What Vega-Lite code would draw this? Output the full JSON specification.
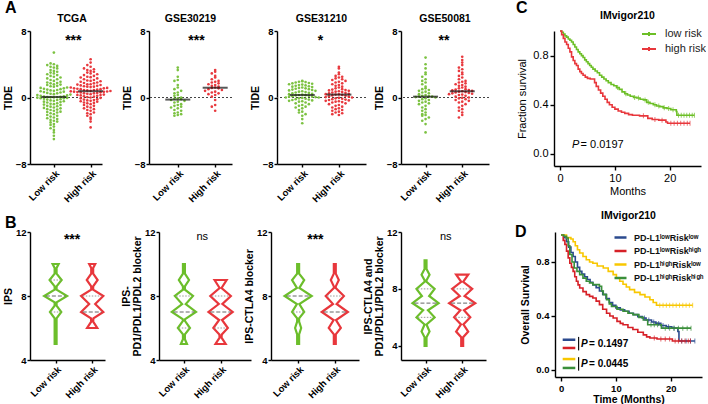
{"$schema":"https://vega.github.io/schema/vega-lite/v6.json","padding":{"left":3,"top":0,"right":0,"bottom":0},"autosize":{"type":"pad"},
"datasets":{
"a":[
{"s":"T","g":"L","v":-5.0},{"s":"T","g":"L","v":-4.6},{"s":"T","g":"L","v":-4.2},{"s":"T","g":"L","v":-3.9},{"s":"T","g":"L","v":-3.7},{"s":"T","g":"L","v":-3.5},{"s":"T","g":"L","v":-3.3},{"s":"T","g":"L","v":-3.2},{"s":"T","g":"L","v":-3.0},{"s":"T","g":"L","v":-2.9},{"s":"T","g":"L","v":-2.8},{"s":"T","g":"L","v":-2.7},{"s":"T","g":"L","v":-2.6},{"s":"T","g":"L","v":-2.5},{"s":"T","g":"L","v":-2.4},{"s":"T","g":"L","v":-2.3},{"s":"T","g":"L","v":-2.2},{"s":"T","g":"L","v":-2.1},{"s":"T","g":"L","v":-2.0},{"s":"T","g":"L","v":-1.9},{"s":"T","g":"L","v":-1.8},{"s":"T","g":"L","v":-1.75},{"s":"T","g":"L","v":-1.7},{"s":"T","g":"L","v":-1.6},{"s":"T","g":"L","v":-1.5},{"s":"T","g":"L","v":-1.45},{"s":"T","g":"L","v":-1.4},{"s":"T","g":"L","v":-1.3},{"s":"T","g":"L","v":-1.25},{"s":"T","g":"L","v":-1.2},{"s":"T","g":"L","v":-1.1},{"s":"T","g":"L","v":-1.05},{"s":"T","g":"L","v":-1.0},{"s":"T","g":"L","v":-0.9},{"s":"T","g":"L","v":-0.85},{"s":"T","g":"L","v":-0.8},{"s":"T","g":"L","v":-0.75},{"s":"T","g":"L","v":-0.7},{"s":"T","g":"L","v":-0.6},{"s":"T","g":"L","v":-0.55},{"s":"T","g":"L","v":-0.5},{"s":"T","g":"L","v":-0.45},{"s":"T","g":"L","v":-0.4},{"s":"T","g":"L","v":-0.35},{"s":"T","g":"L","v":-0.3},{"s":"T","g":"L","v":-0.25},{"s":"T","g":"L","v":-0.2},{"s":"T","g":"L","v":-0.15},{"s":"T","g":"L","v":-0.1},{"s":"T","g":"L","v":-0.08},{"s":"T","g":"L","v":-0.05},{"s":"T","g":"L","v":-0.02},{"s":"T","g":"L","v":0.0},{"s":"T","g":"L","v":0.02},{"s":"T","g":"L","v":0.03},{"s":"T","g":"L","v":0.05},{"s":"T","g":"L","v":0.08},{"s":"T","g":"L","v":0.1},{"s":"T","g":"L","v":0.15},{"s":"T","g":"L","v":0.2},{"s":"T","g":"L","v":0.25},{"s":"T","g":"L","v":0.3},{"s":"T","g":"L","v":0.35},{"s":"T","g":"L","v":0.4},{"s":"T","g":"L","v":0.45},{"s":"T","g":"L","v":0.5},{"s":"T","g":"L","v":0.55},{"s":"T","g":"L","v":0.6},{"s":"T","g":"L","v":0.65},{"s":"T","g":"L","v":0.7},{"s":"T","g":"L","v":0.75},{"s":"T","g":"L","v":0.8},{"s":"T","g":"L","v":0.85},{"s":"T","g":"L","v":0.9},{"s":"T","g":"L","v":0.95},{"s":"T","g":"L","v":1.0},{"s":"T","g":"L","v":1.05},{"s":"T","g":"L","v":1.1},{"s":"T","g":"L","v":1.15},{"s":"T","g":"L","v":1.2},{"s":"T","g":"L","v":1.3},{"s":"T","g":"L","v":1.35},{"s":"T","g":"L","v":1.4},{"s":"T","g":"L","v":1.5},{"s":"T","g":"L","v":1.55},{"s":"T","g":"L","v":1.6},{"s":"T","g":"L","v":1.7},{"s":"T","g":"L","v":1.75},{"s":"T","g":"L","v":1.8},{"s":"T","g":"L","v":1.9},{"s":"T","g":"L","v":2.0},{"s":"T","g":"L","v":2.1},{"s":"T","g":"L","v":2.2},{"s":"T","g":"L","v":2.3},{"s":"T","g":"L","v":2.4},{"s":"T","g":"L","v":2.5},{"s":"T","g":"L","v":2.6},{"s":"T","g":"L","v":2.7},{"s":"T","g":"L","v":2.8},{"s":"T","g":"L","v":2.9},{"s":"T","g":"L","v":3.0},{"s":"T","g":"L","v":3.1},{"s":"T","g":"L","v":3.2},{"s":"T","g":"L","v":3.3},{"s":"T","g":"L","v":3.5},{"s":"T","g":"L","v":3.6},{"s":"T","g":"L","v":3.7},{"s":"T","g":"L","v":3.8},{"s":"T","g":"L","v":3.9},{"s":"T","g":"L","v":4.0},{"s":"T","g":"L","v":4.1},{"s":"T","g":"L","v":5.4},
{"s":"T","g":"H","v":-3.6},{"s":"T","g":"H","v":-2.9},{"s":"T","g":"H","v":-2.6},{"s":"T","g":"H","v":-2.4},{"s":"T","g":"H","v":-2.2},{"s":"T","g":"H","v":-2.0},{"s":"T","g":"H","v":-1.9},{"s":"T","g":"H","v":-1.8},{"s":"T","g":"H","v":-1.6},{"s":"T","g":"H","v":-1.5},{"s":"T","g":"H","v":-1.4},{"s":"T","g":"H","v":-1.3},{"s":"T","g":"H","v":-1.2},{"s":"T","g":"H","v":-1.1},{"s":"T","g":"H","v":-1.0},{"s":"T","g":"H","v":-0.9},{"s":"T","g":"H","v":-0.8},{"s":"T","g":"H","v":-0.7},{"s":"T","g":"H","v":-0.65},{"s":"T","g":"H","v":-0.6},{"s":"T","g":"H","v":-0.5},{"s":"T","g":"H","v":-0.45},{"s":"T","g":"H","v":-0.4},{"s":"T","g":"H","v":-0.35},{"s":"T","g":"H","v":-0.3},{"s":"T","g":"H","v":-0.25},{"s":"T","g":"H","v":-0.2},{"s":"T","g":"H","v":-0.1},{"s":"T","g":"H","v":-0.05},{"s":"T","g":"H","v":0.0},{"s":"T","g":"H","v":0.05},{"s":"T","g":"H","v":0.1},{"s":"T","g":"H","v":0.15},{"s":"T","g":"H","v":0.2},{"s":"T","g":"H","v":0.25},{"s":"T","g":"H","v":0.3},{"s":"T","g":"H","v":0.3},{"s":"T","g":"H","v":0.35},{"s":"T","g":"H","v":0.4},{"s":"T","g":"H","v":0.45},{"s":"T","g":"H","v":0.5},{"s":"T","g":"H","v":0.5},{"s":"T","g":"H","v":0.55},{"s":"T","g":"H","v":0.6},{"s":"T","g":"H","v":0.62},{"s":"T","g":"H","v":0.65},{"s":"T","g":"H","v":0.68},{"s":"T","g":"H","v":0.7},{"s":"T","g":"H","v":0.72},{"s":"T","g":"H","v":0.74},{"s":"T","g":"H","v":0.78},{"s":"T","g":"H","v":0.8},{"s":"T","g":"H","v":0.85},{"s":"T","g":"H","v":0.9},{"s":"T","g":"H","v":0.9},{"s":"T","g":"H","v":0.95},{"s":"T","g":"H","v":1.0},{"s":"T","g":"H","v":1.0},{"s":"T","g":"H","v":1.05},{"s":"T","g":"H","v":1.1},{"s":"T","g":"H","v":1.1},{"s":"T","g":"H","v":1.15},{"s":"T","g":"H","v":1.2},{"s":"T","g":"H","v":1.25},{"s":"T","g":"H","v":1.3},{"s":"T","g":"H","v":1.3},{"s":"T","g":"H","v":1.35},{"s":"T","g":"H","v":1.4},{"s":"T","g":"H","v":1.45},{"s":"T","g":"H","v":1.5},{"s":"T","g":"H","v":1.55},{"s":"T","g":"H","v":1.6},{"s":"T","g":"H","v":1.6},{"s":"T","g":"H","v":1.7},{"s":"T","g":"H","v":1.75},{"s":"T","g":"H","v":1.8},{"s":"T","g":"H","v":1.9},{"s":"T","g":"H","v":1.95},{"s":"T","g":"H","v":2.0},{"s":"T","g":"H","v":2.05},{"s":"T","g":"H","v":2.1},{"s":"T","g":"H","v":2.2},{"s":"T","g":"H","v":2.3},{"s":"T","g":"H","v":2.4},{"s":"T","g":"H","v":2.45},{"s":"T","g":"H","v":2.5},{"s":"T","g":"H","v":2.6},{"s":"T","g":"H","v":2.7},{"s":"T","g":"H","v":2.8},{"s":"T","g":"H","v":2.9},{"s":"T","g":"H","v":3.0},{"s":"T","g":"H","v":3.1},{"s":"T","g":"H","v":3.2},{"s":"T","g":"H","v":3.3},{"s":"T","g":"H","v":3.4},{"s":"T","g":"H","v":3.5},{"s":"T","g":"H","v":3.7},{"s":"T","g":"H","v":3.9},{"s":"T","g":"H","v":4.2},{"s":"T","g":"H","v":4.6},
{"s":"A","g":"L","v":3.6},{"s":"A","g":"L","v":3.3},{"s":"A","g":"L","v":2.5},{"s":"A","g":"L","v":2.1},{"s":"A","g":"L","v":2.0},{"s":"A","g":"L","v":1.5},{"s":"A","g":"L","v":1.2},{"s":"A","g":"L","v":1.0},{"s":"A","g":"L","v":0.8},{"s":"A","g":"L","v":0.6},{"s":"A","g":"L","v":0.5},{"s":"A","g":"L","v":0.3},{"s":"A","g":"L","v":0.2},{"s":"A","g":"L","v":0.0},{"s":"A","g":"L","v":-0.1},{"s":"A","g":"L","v":-0.15},{"s":"A","g":"L","v":-0.2},{"s":"A","g":"L","v":-0.3},{"s":"A","g":"L","v":-0.4},{"s":"A","g":"L","v":-0.5},{"s":"A","g":"L","v":-0.6},{"s":"A","g":"L","v":-0.8},{"s":"A","g":"L","v":-0.9},{"s":"A","g":"L","v":-1.0},{"s":"A","g":"L","v":-1.1},{"s":"A","g":"L","v":-1.2},{"s":"A","g":"L","v":-1.3},{"s":"A","g":"L","v":-1.5},{"s":"A","g":"L","v":-1.6},{"s":"A","g":"L","v":-1.8},{"s":"A","g":"L","v":-1.9},{"s":"A","g":"L","v":-2.0},{"s":"A","g":"L","v":-2.1},{"s":"A","g":"L","v":-2.2},
{"s":"A","g":"H","v":3.3},{"s":"A","g":"H","v":3.1},{"s":"A","g":"H","v":2.9},{"s":"A","g":"H","v":2.6},{"s":"A","g":"H","v":2.4},{"s":"A","g":"H","v":2.2},{"s":"A","g":"H","v":2.0},{"s":"A","g":"H","v":1.9},{"s":"A","g":"H","v":1.8},{"s":"A","g":"H","v":1.7},{"s":"A","g":"H","v":1.6},{"s":"A","g":"H","v":1.5},{"s":"A","g":"H","v":1.4},{"s":"A","g":"H","v":1.3},{"s":"A","g":"H","v":1.2},{"s":"A","g":"H","v":1.15},{"s":"A","g":"H","v":1.1},{"s":"A","g":"H","v":1.0},{"s":"A","g":"H","v":0.9},{"s":"A","g":"H","v":0.8},{"s":"A","g":"H","v":0.7},{"s":"A","g":"H","v":0.6},{"s":"A","g":"H","v":0.5},{"s":"A","g":"H","v":0.4},{"s":"A","g":"H","v":0.3},{"s":"A","g":"H","v":0.1},{"s":"A","g":"H","v":-0.3},{"s":"A","g":"H","v":-0.9},{"s":"A","g":"H","v":-1.1},{"s":"A","g":"H","v":-1.6},
{"s":"B","g":"L","v":2.0},{"s":"B","g":"L","v":1.95},{"s":"B","g":"L","v":1.9},{"s":"B","g":"L","v":1.85},{"s":"B","g":"L","v":1.8},{"s":"B","g":"L","v":1.75},{"s":"B","g":"L","v":1.7},{"s":"B","g":"L","v":1.65},{"s":"B","g":"L","v":1.6},{"s":"B","g":"L","v":1.55},{"s":"B","g":"L","v":1.5},{"s":"B","g":"L","v":1.45},{"s":"B","g":"L","v":1.4},{"s":"B","g":"L","v":1.35},{"s":"B","g":"L","v":1.3},{"s":"B","g":"L","v":1.25},{"s":"B","g":"L","v":1.2},{"s":"B","g":"L","v":1.15},{"s":"B","g":"L","v":1.1},{"s":"B","g":"L","v":1.05},{"s":"B","g":"L","v":1.0},{"s":"B","g":"L","v":0.95},{"s":"B","g":"L","v":0.9},{"s":"B","g":"L","v":0.85},{"s":"B","g":"L","v":0.8},{"s":"B","g":"L","v":0.75},{"s":"B","g":"L","v":0.7},{"s":"B","g":"L","v":0.65},{"s":"B","g":"L","v":0.6},{"s":"B","g":"L","v":0.55},{"s":"B","g":"L","v":0.5},{"s":"B","g":"L","v":0.45},{"s":"B","g":"L","v":0.4},{"s":"B","g":"L","v":0.35},{"s":"B","g":"L","v":0.3},{"s":"B","g":"L","v":0.28},{"s":"B","g":"L","v":0.25},{"s":"B","g":"L","v":0.2},{"s":"B","g":"L","v":0.15},{"s":"B","g":"L","v":0.1},{"s":"B","g":"L","v":0.1},{"s":"B","g":"L","v":0.05},{"s":"B","g":"L","v":0.0},{"s":"B","g":"L","v":0.0},{"s":"B","g":"L","v":-0.05},{"s":"B","g":"L","v":-0.1},{"s":"B","g":"L","v":-0.15},{"s":"B","g":"L","v":-0.2},{"s":"B","g":"L","v":-0.25},{"s":"B","g":"L","v":-0.3},{"s":"B","g":"L","v":-0.35},{"s":"B","g":"L","v":-0.4},{"s":"B","g":"L","v":-0.45},{"s":"B","g":"L","v":-0.5},{"s":"B","g":"L","v":-0.6},{"s":"B","g":"L","v":-0.7},{"s":"B","g":"L","v":-0.8},{"s":"B","g":"L","v":-0.9},{"s":"B","g":"L","v":-1.0},{"s":"B","g":"L","v":-1.1},{"s":"B","g":"L","v":-1.2},{"s":"B","g":"L","v":-1.3},{"s":"B","g":"L","v":-1.5},{"s":"B","g":"L","v":-1.7},{"s":"B","g":"L","v":-1.8},{"s":"B","g":"L","v":-2.0},{"s":"B","g":"L","v":-2.2},{"s":"B","g":"L","v":-2.6},{"s":"B","g":"L","v":-3.1},
{"s":"B","g":"H","v":3.7},{"s":"B","g":"H","v":3.5},{"s":"B","g":"H","v":3.0},{"s":"B","g":"H","v":2.8},{"s":"B","g":"H","v":2.6},{"s":"B","g":"H","v":2.5},{"s":"B","g":"H","v":2.4},{"s":"B","g":"H","v":2.3},{"s":"B","g":"H","v":2.2},{"s":"B","g":"H","v":2.1},{"s":"B","g":"H","v":2.0},{"s":"B","g":"H","v":1.9},{"s":"B","g":"H","v":1.8},{"s":"B","g":"H","v":1.7},{"s":"B","g":"H","v":1.6},{"s":"B","g":"H","v":1.5},{"s":"B","g":"H","v":1.4},{"s":"B","g":"H","v":1.3},{"s":"B","g":"H","v":1.2},{"s":"B","g":"H","v":1.1},{"s":"B","g":"H","v":1.0},{"s":"B","g":"H","v":0.95},{"s":"B","g":"H","v":0.9},{"s":"B","g":"H","v":0.85},{"s":"B","g":"H","v":0.8},{"s":"B","g":"H","v":0.75},{"s":"B","g":"H","v":0.7},{"s":"B","g":"H","v":0.65},{"s":"B","g":"H","v":0.6},{"s":"B","g":"H","v":0.55},{"s":"B","g":"H","v":0.5},{"s":"B","g":"H","v":0.45},{"s":"B","g":"H","v":0.4},{"s":"B","g":"H","v":0.38},{"s":"B","g":"H","v":0.35},{"s":"B","g":"H","v":0.3},{"s":"B","g":"H","v":0.25},{"s":"B","g":"H","v":0.2},{"s":"B","g":"H","v":0.15},{"s":"B","g":"H","v":0.1},{"s":"B","g":"H","v":0.05},{"s":"B","g":"H","v":0.0},{"s":"B","g":"H","v":-0.05},{"s":"B","g":"H","v":-0.1},{"s":"B","g":"H","v":-0.15},{"s":"B","g":"H","v":-0.2},{"s":"B","g":"H","v":-0.25},{"s":"B","g":"H","v":-0.3},{"s":"B","g":"H","v":-0.35},{"s":"B","g":"H","v":-0.4},{"s":"B","g":"H","v":-0.45},{"s":"B","g":"H","v":-0.5},{"s":"B","g":"H","v":-0.55},{"s":"B","g":"H","v":-0.6},{"s":"B","g":"H","v":-0.7},{"s":"B","g":"H","v":-0.8},{"s":"B","g":"H","v":-0.9},{"s":"B","g":"H","v":-1.0},{"s":"B","g":"H","v":-1.1},{"s":"B","g":"H","v":-1.2},{"s":"B","g":"H","v":-1.3},{"s":"B","g":"H","v":-1.4},{"s":"B","g":"H","v":-1.5},{"s":"B","g":"H","v":-1.6},{"s":"B","g":"H","v":-1.7},{"s":"B","g":"H","v":-1.8},{"s":"B","g":"H","v":-1.9},{"s":"B","g":"H","v":-2.0},{"s":"B","g":"H","v":-2.1},
{"s":"C","g":"L","v":4.8},{"s":"C","g":"L","v":4.0},{"s":"C","g":"L","v":3.5},{"s":"C","g":"L","v":3.0},{"s":"C","g":"L","v":2.8},{"s":"C","g":"L","v":2.5},{"s":"C","g":"L","v":2.2},{"s":"C","g":"L","v":2.0},{"s":"C","g":"L","v":1.8},{"s":"C","g":"L","v":1.6},{"s":"C","g":"L","v":1.3},{"s":"C","g":"L","v":1.1},{"s":"C","g":"L","v":1.0},{"s":"C","g":"L","v":0.9},{"s":"C","g":"L","v":0.8},{"s":"C","g":"L","v":0.7},{"s":"C","g":"L","v":0.6},{"s":"C","g":"L","v":0.5},{"s":"C","g":"L","v":0.4},{"s":"C","g":"L","v":0.3},{"s":"C","g":"L","v":0.2},{"s":"C","g":"L","v":0.15},{"s":"C","g":"L","v":0.12},{"s":"C","g":"L","v":0.1},{"s":"C","g":"L","v":0.05},{"s":"C","g":"L","v":0.0},{"s":"C","g":"L","v":-0.1},{"s":"C","g":"L","v":-0.2},{"s":"C","g":"L","v":-0.3},{"s":"C","g":"L","v":-0.4},{"s":"C","g":"L","v":-0.5},{"s":"C","g":"L","v":-0.6},{"s":"C","g":"L","v":-0.7},{"s":"C","g":"L","v":-0.8},{"s":"C","g":"L","v":-1.0},{"s":"C","g":"L","v":-1.2},{"s":"C","g":"L","v":-1.4},{"s":"C","g":"L","v":-1.6},{"s":"C","g":"L","v":-1.8},{"s":"C","g":"L","v":-2.0},{"s":"C","g":"L","v":-2.1},{"s":"C","g":"L","v":-2.2},{"s":"C","g":"L","v":-2.4},{"s":"C","g":"L","v":-2.6},{"s":"C","g":"L","v":-2.8},{"s":"C","g":"L","v":-3.2},{"s":"C","g":"L","v":-4.2},
{"s":"C","g":"H","v":4.9},{"s":"C","g":"H","v":4.5},{"s":"C","g":"H","v":4.2},{"s":"C","g":"H","v":3.9},{"s":"C","g":"H","v":3.6},{"s":"C","g":"H","v":3.4},{"s":"C","g":"H","v":3.2},{"s":"C","g":"H","v":3.0},{"s":"C","g":"H","v":2.8},{"s":"C","g":"H","v":2.6},{"s":"C","g":"H","v":2.4},{"s":"C","g":"H","v":2.2},{"s":"C","g":"H","v":2.0},{"s":"C","g":"H","v":1.9},{"s":"C","g":"H","v":1.8},{"s":"C","g":"H","v":1.7},{"s":"C","g":"H","v":1.6},{"s":"C","g":"H","v":1.5},{"s":"C","g":"H","v":1.4},{"s":"C","g":"H","v":1.3},{"s":"C","g":"H","v":1.2},{"s":"C","g":"H","v":1.1},{"s":"C","g":"H","v":1.0},{"s":"C","g":"H","v":0.95},{"s":"C","g":"H","v":0.9},{"s":"C","g":"H","v":0.85},{"s":"C","g":"H","v":0.8},{"s":"C","g":"H","v":0.75},{"s":"C","g":"H","v":0.7},{"s":"C","g":"H","v":0.65},{"s":"C","g":"H","v":0.6},{"s":"C","g":"H","v":0.55},{"s":"C","g":"H","v":0.5},{"s":"C","g":"H","v":0.45},{"s":"C","g":"H","v":0.4},{"s":"C","g":"H","v":0.35},{"s":"C","g":"H","v":0.3},{"s":"C","g":"H","v":0.2},{"s":"C","g":"H","v":0.1},{"s":"C","g":"H","v":0.0},{"s":"C","g":"H","v":-0.05},{"s":"C","g":"H","v":-0.1},{"s":"C","g":"H","v":-0.2},{"s":"C","g":"H","v":-0.3},{"s":"C","g":"H","v":-0.4},{"s":"C","g":"H","v":-0.5},{"s":"C","g":"H","v":-0.6},{"s":"C","g":"H","v":-0.8},{"s":"C","g":"H","v":-1.0},{"s":"C","g":"H","v":-1.2},{"s":"C","g":"H","v":-1.4},{"s":"C","g":"H","v":-1.6},{"s":"C","g":"H","v":-1.8},{"s":"C","g":"H","v":-2.1},{"s":"C","g":"H","v":-2.4}
],
"v":[
{"p":1,"g":"L","y":5,"d":0.08},{"p":1,"g":"L","y":6.6,"d":0.08},{"p":1,"g":"L","y":7,"d":0.47},{"p":1,"g":"L","y":7.4,"d":0.08},{"p":1,"g":"L","y":7.6,"d":0.08},{"p":1,"g":"L","y":8,"d":0.95},{"p":1,"g":"L","y":8.4,"d":0.08},{"p":1,"g":"L","y":8.6,"d":0.08},{"p":1,"g":"L","y":9,"d":0.5},{"p":1,"g":"L","y":9.4,"d":0.08},{"p":1,"g":"L","y":9.75,"d":0.08},{"p":1,"g":"L","y":10,"d":0.25},
{"p":1,"g":"H","y":6,"d":0.42},{"p":1,"g":"H","y":6.4,"d":0.08},{"p":1,"g":"H","y":6.6,"d":0.1},{"p":1,"g":"H","y":7,"d":0.92},{"p":1,"g":"H","y":7.5,"d":0.25},{"p":1,"g":"H","y":8,"d":0.92},{"p":1,"g":"H","y":8.4,"d":0.08},{"p":1,"g":"H","y":8.6,"d":0.08},{"p":1,"g":"H","y":9,"d":0.45},{"p":1,"g":"H","y":9.4,"d":0.08},{"p":1,"g":"H","y":9.75,"d":0.08},{"p":1,"g":"H","y":10,"d":0.25},
{"p":2,"g":"L","y":5,"d":0.25},{"p":2,"g":"L","y":5.3,"d":0.08},{"p":2,"g":"L","y":5.6,"d":0.08},{"p":2,"g":"L","y":6,"d":0.5},{"p":2,"g":"L","y":6.45,"d":0.08},{"p":2,"g":"L","y":6.55,"d":0.1},{"p":2,"g":"L","y":7,"d":1.0},{"p":2,"g":"L","y":7.5,"d":0.15},{"p":2,"g":"L","y":8,"d":0.75},{"p":2,"g":"L","y":8.4,"d":0.08},{"p":2,"g":"L","y":8.6,"d":0.08},{"p":2,"g":"L","y":9,"d":0.42},{"p":2,"g":"L","y":9.4,"d":0.08},{"p":2,"g":"L","y":10,"d":0.08},
{"p":2,"g":"H","y":5,"d":0.42},{"p":2,"g":"H","y":5.4,"d":0.08},{"p":2,"g":"H","y":5.6,"d":0.1},{"p":2,"g":"H","y":6,"d":0.6},{"p":2,"g":"H","y":6.5,"d":0.12},{"p":2,"g":"H","y":7,"d":1.0},{"p":2,"g":"H","y":7.5,"d":0.15},{"p":2,"g":"H","y":8,"d":0.85},{"p":2,"g":"H","y":8.5,"d":0.08},{"p":2,"g":"H","y":9,"d":0.5},
{"p":3,"g":"L","y":5,"d":0.08},{"p":3,"g":"L","y":5.6,"d":0.08},{"p":3,"g":"L","y":6,"d":0.25},{"p":3,"g":"L","y":6.4,"d":0.08},{"p":3,"g":"L","y":6.6,"d":0.08},{"p":3,"g":"L","y":7,"d":0.5},{"p":3,"g":"L","y":7.5,"d":0.1},{"p":3,"g":"L","y":8,"d":1.12},{"p":3,"g":"L","y":8.5,"d":0.1},{"p":3,"g":"L","y":9,"d":0.5},{"p":3,"g":"L","y":9.4,"d":0.08},{"p":3,"g":"L","y":10,"d":0.08},
{"p":3,"g":"H","y":5,"d":0.08},{"p":3,"g":"H","y":5.6,"d":0.08},{"p":3,"g":"H","y":6,"d":0.5},{"p":3,"g":"H","y":6.5,"d":0.1},{"p":3,"g":"H","y":7,"d":1.08},{"p":3,"g":"H","y":7.5,"d":0.15},{"p":3,"g":"H","y":8,"d":0.75},{"p":3,"g":"H","y":8.5,"d":0.08},{"p":3,"g":"H","y":8.6,"d":0.08},{"p":3,"g":"H","y":9,"d":0.33},{"p":3,"g":"H","y":9.4,"d":0.08},{"p":3,"g":"H","y":10,"d":0.08},
{"p":4,"g":"L","y":4,"d":0.08},{"p":4,"g":"L","y":4.6,"d":0.08},{"p":4,"g":"L","y":5,"d":0.33},{"p":4,"g":"L","y":5.5,"d":0.08},{"p":4,"g":"L","y":6,"d":0.75},{"p":4,"g":"L","y":6.5,"d":0.2},{"p":4,"g":"L","y":7,"d":1.08},{"p":4,"g":"L","y":7.5,"d":0.3},{"p":4,"g":"L","y":8,"d":0.75},{"p":4,"g":"L","y":8.5,"d":0.08},{"p":4,"g":"L","y":8.6,"d":0.08},{"p":4,"g":"L","y":9,"d":0.33},{"p":4,"g":"L","y":9.4,"d":0.08},{"p":4,"g":"L","y":10,"d":0.08},
{"p":4,"g":"H","y":4,"d":0.08},{"p":4,"g":"H","y":4.6,"d":0.08},{"p":4,"g":"H","y":5,"d":0.5},{"p":4,"g":"H","y":5.5,"d":0.1},{"p":4,"g":"H","y":6,"d":0.67},{"p":4,"g":"H","y":6.5,"d":0.15},{"p":4,"g":"H","y":7,"d":1.08},{"p":4,"g":"H","y":7.5,"d":0.2},{"p":4,"g":"H","y":8,"d":0.83},{"p":4,"g":"H","y":8.5,"d":0.08},{"p":4,"g":"H","y":9,"d":0.5}
],
"q":[
{"p":1,"g":"L","k":"q","y":9,"d":0.5},{"p":1,"g":"L","k":"m","y":8,"d":0.95},{"p":1,"g":"L","k":"q","y":7,"d":0.47},
{"p":1,"g":"H","k":"q","y":8,"d":0.92},{"p":1,"g":"H","k":"m","y":7,"d":0.92},
{"p":2,"g":"L","k":"q","y":8,"d":0.75},{"p":2,"g":"L","k":"m","y":7,"d":1.0},{"p":2,"g":"L","k":"q","y":6,"d":0.5},
{"p":2,"g":"H","k":"q","y":8,"d":0.85},{"p":2,"g":"H","k":"m","y":7,"d":1.0},{"p":2,"g":"H","k":"q","y":6,"d":0.6},
{"p":3,"g":"L","k":"m","y":8,"d":1.12},{"p":3,"g":"L","k":"q","y":7,"d":0.5},
{"p":3,"g":"H","k":"q","y":8,"d":0.75},{"p":3,"g":"H","k":"m","y":7,"d":1.08},
{"p":4,"g":"L","k":"q","y":8,"d":0.75},{"p":4,"g":"L","k":"m","y":7,"d":1.08},{"p":4,"g":"L","k":"q","y":6,"d":0.75},
{"p":4,"g":"H","k":"q","y":8,"d":0.83},{"p":4,"g":"H","k":"m","y":7,"d":1.08},{"p":4,"g":"H","k":"q","y":6,"d":0.67}
],
"c":[
{"g":"low risk","t":0,"s":1},{"g":"low risk","t":0.3,"s":0.99},{"g":"low risk","t":0.6,"s":0.975},{"g":"low risk","t":0.9,"s":0.96},{"g":"low risk","t":1.2,"s":0.95},{"g":"low risk","t":1.5,"s":0.935},{"g":"low risk","t":1.8,"s":0.925},{"g":"low risk","t":2.1,"s":0.91},{"g":"low risk","t":2.4,"s":0.89},{"g":"low risk","t":2.7,"s":0.87},{"g":"low risk","t":3.0,"s":0.85},{"g":"low risk","t":3.3,"s":0.83},{"g":"low risk","t":3.6,"s":0.815},{"g":"low risk","t":3.9,"s":0.8},{"g":"low risk","t":4.2,"s":0.785},{"g":"low risk","t":4.5,"s":0.765},{"g":"low risk","t":4.8,"s":0.75},{"g":"low risk","t":5.1,"s":0.735},{"g":"low risk","t":5.4,"s":0.72},{"g":"low risk","t":5.7,"s":0.705},{"g":"low risk","t":6.0,"s":0.69},{"g":"low risk","t":6.4,"s":0.675},{"g":"low risk","t":6.8,"s":0.66},{"g":"low risk","t":7.2,"s":0.64},{"g":"low risk","t":7.6,"s":0.625},{"g":"low risk","t":8.0,"s":0.61},{"g":"low risk","t":8.4,"s":0.595},{"g":"low risk","t":8.8,"s":0.58},{"g":"low risk","t":9.3,"s":0.565},{"g":"low risk","t":9.8,"s":0.555},{"g":"low risk","t":10.3,"s":0.54},{"g":"low risk","t":10.8,"s":0.525},{"g":"low risk","t":11.3,"s":0.505},{"g":"low risk","t":11.8,"s":0.49},{"g":"low risk","t":12.3,"s":0.48},{"g":"low risk","t":12.8,"s":0.47},{"g":"low risk","t":13.4,"s":0.46},{"g":"low risk","t":14.0,"s":0.455},{"g":"low risk","t":14.6,"s":0.445},{"g":"low risk","t":15.2,"s":0.44},{"g":"low risk","t":15.8,"s":0.42},{"g":"low risk","t":16.4,"s":0.41},{"g":"low risk","t":17.0,"s":0.4},{"g":"low risk","t":17.6,"s":0.39},{"g":"low risk","t":18.2,"s":0.385},{"g":"low risk","t":18.8,"s":0.375},{"g":"low risk","t":19.5,"s":0.37},{"g":"low risk","t":20.2,"s":0.36},{"g":"low risk","t":21.2,"s":0.345},{"g":"low risk","t":21.3,"s":0.315},
{"g":"low risk","t":10.5,"s":0.54,"c":1},{"g":"low risk","t":12.0,"s":0.49,"c":1},{"g":"low risk","t":13.6,"s":0.46,"c":1},{"g":"low risk","t":14.3,"s":0.455,"c":1},{"g":"low risk","t":15.5,"s":0.44,"c":1},{"g":"low risk","t":16.1,"s":0.42,"c":1},{"g":"low risk","t":17.3,"s":0.4,"c":1},{"g":"low risk","t":18.0,"s":0.39,"c":1},{"g":"low risk","t":19.0,"s":0.375,"c":1},{"g":"low risk","t":19.8,"s":0.37,"c":1},{"g":"low risk","t":20.6,"s":0.36,"c":1},{"g":"low risk","t":21.6,"s":0.315,"c":1},{"g":"low risk","t":22.1,"s":0.315,"c":1},{"g":"low risk","t":22.6,"s":0.315,"c":1},{"g":"low risk","t":23.1,"s":0.315,"c":1},{"g":"low risk","t":23.6,"s":0.315,"c":1},{"g":"low risk","t":24.1,"s":0.315,"c":1},{"g":"low risk","t":24.5,"s":0.315,"c":1},
{"g":"high risk","t":0,"s":1},{"g":"high risk","t":0.3,"s":0.97},{"g":"high risk","t":0.6,"s":0.94},{"g":"high risk","t":0.9,"s":0.91},{"g":"high risk","t":1.2,"s":0.89},{"g":"high risk","t":1.5,"s":0.86},{"g":"high risk","t":1.8,"s":0.83},{"g":"high risk","t":2.1,"s":0.79},{"g":"high risk","t":2.4,"s":0.76},{"g":"high risk","t":2.7,"s":0.735},{"g":"high risk","t":3.0,"s":0.72},{"g":"high risk","t":3.3,"s":0.69},{"g":"high risk","t":3.6,"s":0.67},{"g":"high risk","t":3.9,"s":0.655},{"g":"high risk","t":4.2,"s":0.64},{"g":"high risk","t":4.6,"s":0.625},{"g":"high risk","t":5.0,"s":0.615},{"g":"high risk","t":5.5,"s":0.61},{"g":"high risk","t":6.3,"s":0.58},{"g":"high risk","t":6.6,"s":0.55},{"g":"high risk","t":7.0,"s":0.52},{"g":"high risk","t":7.4,"s":0.495},{"g":"high risk","t":7.8,"s":0.47},{"g":"high risk","t":8.2,"s":0.445},{"g":"high risk","t":8.6,"s":0.42},{"g":"high risk","t":9.0,"s":0.4},{"g":"high risk","t":9.5,"s":0.38},{"g":"high risk","t":10.0,"s":0.365},{"g":"high risk","t":10.6,"s":0.35},{"g":"high risk","t":11.2,"s":0.34},{"g":"high risk","t":11.8,"s":0.33},{"g":"high risk","t":12.5,"s":0.32},{"g":"high risk","t":13.2,"s":0.315},{"g":"high risk","t":14.5,"s":0.31},{"g":"high risk","t":16.0,"s":0.29},{"g":"high risk","t":16.8,"s":0.28},{"g":"high risk","t":18.0,"s":0.275},{"g":"high risk","t":19.3,"s":0.26},{"g":"high risk","t":19.6,"s":0.25},
{"g":"high risk","t":15.2,"s":0.31,"c":1},{"g":"high risk","t":17.3,"s":0.28,"c":1},{"g":"high risk","t":18.6,"s":0.275,"c":1},{"g":"high risk","t":20.2,"s":0.25,"c":1},{"g":"high risk","t":20.8,"s":0.25,"c":1},{"g":"high risk","t":21.4,"s":0.25,"c":1},{"g":"high risk","t":22.0,"s":0.25,"c":1},{"g":"high risk","t":22.6,"s":0.25,"c":1},{"g":"high risk","t":23.2,"s":0.25,"c":1},{"g":"high risk","t":23.7,"s":0.25,"c":1}
],
"d":[
{"g":"LL","t":0,"s":1},{"g":"LL","t":0.5,"s":0.98},{"g":"LL","t":1.0,"s":0.95},{"g":"LL","t":1.4,"s":0.91},{"g":"LL","t":1.8,"s":0.87},{"g":"LL","t":2.2,"s":0.84},{"g":"LL","t":2.6,"s":0.8},{"g":"LL","t":3.0,"s":0.76},{"g":"LL","t":3.4,"s":0.73},{"g":"LL","t":3.8,"s":0.71},{"g":"LL","t":4.3,"s":0.69},{"g":"LL","t":4.8,"s":0.67},{"g":"LL","t":5.3,"s":0.65},{"g":"LL","t":5.8,"s":0.63},{"g":"LL","t":6.4,"s":0.61},{"g":"LL","t":7.0,"s":0.585},{"g":"LL","t":7.6,"s":0.56},{"g":"LL","t":8.2,"s":0.53},{"g":"LL","t":8.8,"s":0.5},{"g":"LL","t":9.4,"s":0.48},{"g":"LL","t":10.0,"s":0.46},{"g":"LL","t":10.8,"s":0.445},{"g":"LL","t":11.6,"s":0.435},{"g":"LL","t":12.4,"s":0.42},{"g":"LL","t":13.2,"s":0.41},{"g":"LL","t":14.0,"s":0.395},{"g":"LL","t":14.8,"s":0.385},{"g":"LL","t":15.5,"s":0.37},{"g":"LL","t":16.5,"s":0.355},{"g":"LL","t":17.3,"s":0.345},{"g":"LL","t":18.2,"s":0.33},{"g":"LL","t":19.2,"s":0.32},{"g":"LL","t":20.2,"s":0.31},{"g":"LL","t":21.3,"s":0.285},{"g":"LL","t":21.5,"s":0.215},
{"g":"LL","t":15.2,"s":0.385,"c":1},{"g":"LL","t":16.0,"s":0.37,"c":1},{"g":"LL","t":16.9,"s":0.355,"c":1},{"g":"LL","t":17.8,"s":0.345,"c":1},{"g":"LL","t":18.6,"s":0.33,"c":1},{"g":"LL","t":19.6,"s":0.32,"c":1},{"g":"LL","t":20.6,"s":0.31,"c":1},{"g":"LL","t":22.0,"s":0.215,"c":1},{"g":"LL","t":22.8,"s":0.215,"c":1},{"g":"LL","t":23.6,"s":0.215,"c":1},{"g":"LL","t":24.4,"s":0.215,"c":1},
{"g":"LH","t":0,"s":1},{"g":"LH","t":0.4,"s":0.96},{"g":"LH","t":0.7,"s":0.93},{"g":"LH","t":1.0,"s":0.88},{"g":"LH","t":1.3,"s":0.83},{"g":"LH","t":1.6,"s":0.79},{"g":"LH","t":1.9,"s":0.76},{"g":"LH","t":2.2,"s":0.73},{"g":"LH","t":2.5,"s":0.69},{"g":"LH","t":2.8,"s":0.657},{"g":"LH","t":3.1,"s":0.63},{"g":"LH","t":3.4,"s":0.607},{"g":"LH","t":4.0,"s":0.58},{"g":"LH","t":4.6,"s":0.558},{"g":"LH","t":5.2,"s":0.545},{"g":"LH","t":5.8,"s":0.533},{"g":"LH","t":6.4,"s":0.51},{"g":"LH","t":7.0,"s":0.484},{"g":"LH","t":7.6,"s":0.45},{"g":"LH","t":8.3,"s":0.42},{"g":"LH","t":8.9,"s":0.4},{"g":"LH","t":9.5,"s":0.385},{"g":"LH","t":10.2,"s":0.36},{"g":"LH","t":10.8,"s":0.345},{"g":"LH","t":11.3,"s":0.335},{"g":"LH","t":12.2,"s":0.315},{"g":"LH","t":13.1,"s":0.3},{"g":"LH","t":14.0,"s":0.28},{"g":"LH","t":15.0,"s":0.26},{"g":"LH","t":15.6,"s":0.245},{"g":"LH","t":16.2,"s":0.237},{"g":"LH","t":17.5,"s":0.23},{"g":"LH","t":20.3,"s":0.215},
{"g":"LH","t":17.0,"s":0.237,"c":1},{"g":"LH","t":18.2,"s":0.23,"c":1},{"g":"LH","t":19.0,"s":0.23,"c":1},{"g":"LH","t":19.8,"s":0.23,"c":1},{"g":"LH","t":20.8,"s":0.215,"c":1},{"g":"LH","t":21.4,"s":0.215,"c":1},{"g":"LH","t":22.0,"s":0.215,"c":1},{"g":"LH","t":22.6,"s":0.215,"c":1},{"g":"LH","t":23.2,"s":0.215,"c":1},{"g":"LH","t":23.6,"s":0.215,"c":1},
{"g":"HL","t":0,"s":1},{"g":"HL","t":1.0,"s":0.98},{"g":"HL","t":1.8,"s":0.97},{"g":"HL","t":2.2,"s":0.95},{"g":"HL","t":2.6,"s":0.92},{"g":"HL","t":3.0,"s":0.89},{"g":"HL","t":3.4,"s":0.867},{"g":"HL","t":4.0,"s":0.84},{"g":"HL","t":4.6,"s":0.817},{"g":"HL","t":5.2,"s":0.8},{"g":"HL","t":5.8,"s":0.79},{"g":"HL","t":6.6,"s":0.77},{"g":"HL","t":7.7,"s":0.755},{"g":"HL","t":8.6,"s":0.73},{"g":"HL","t":9.5,"s":0.706},{"g":"HL","t":10.1,"s":0.68},{"g":"HL","t":10.7,"s":0.657},{"g":"HL","t":11.3,"s":0.635},{"g":"HL","t":11.9,"s":0.615},{"g":"HL","t":12.5,"s":0.595},{"g":"HL","t":13.4,"s":0.575},{"g":"HL","t":14.4,"s":0.558},{"g":"HL","t":15.3,"s":0.54},{"g":"HL","t":16.2,"s":0.52},{"g":"HL","t":16.8,"s":0.5},{"g":"HL","t":17.4,"s":0.48},
{"g":"HL","t":18.0,"s":0.48,"c":1},{"g":"HL","t":18.6,"s":0.48,"c":1},{"g":"HL","t":19.2,"s":0.48,"c":1},{"g":"HL","t":19.8,"s":0.48,"c":1},{"g":"HL","t":20.4,"s":0.48,"c":1},{"g":"HL","t":21.0,"s":0.48,"c":1},{"g":"HL","t":21.6,"s":0.48,"c":1},{"g":"HL","t":22.2,"s":0.48,"c":1},{"g":"HL","t":22.8,"s":0.48,"c":1},{"g":"HL","t":23.4,"s":0.48,"c":1},{"g":"HL","t":24.0,"s":0.48,"c":1},
{"g":"HH","t":0,"s":1},{"g":"HH","t":0.5,"s":0.99},{"g":"HH","t":1.0,"s":0.978},{"g":"HH","t":1.3,"s":0.92},{"g":"HH","t":1.6,"s":0.855},{"g":"HH","t":2.0,"s":0.8},{"g":"HH","t":2.4,"s":0.755},{"g":"HH","t":2.9,"s":0.73},{"g":"HH","t":3.4,"s":0.706},{"g":"HH","t":4.0,"s":0.68},{"g":"HH","t":4.6,"s":0.657},{"g":"HH","t":5.2,"s":0.645},{"g":"HH","t":5.8,"s":0.632},{"g":"HH","t":7.0,"s":0.62},{"g":"HH","t":7.4,"s":0.585},{"g":"HH","t":7.7,"s":0.558},{"g":"HH","t":8.3,"s":0.52},{"g":"HH","t":8.8,"s":0.49},{"g":"HH","t":9.2,"s":0.47},{"g":"HH","t":10.2,"s":0.45},{"g":"HH","t":11.3,"s":0.435},{"g":"HH","t":12.2,"s":0.42},{"g":"HH","t":13.1,"s":0.41},{"g":"HH","t":14.2,"s":0.39},{"g":"HH","t":15.0,"s":0.37},{"g":"HH","t":15.8,"s":0.335},{"g":"HH","t":18.3,"s":0.31},
{"g":"HH","t":16.4,"s":0.335,"c":1},{"g":"HH","t":17.0,"s":0.335,"c":1},{"g":"HH","t":17.6,"s":0.335,"c":1},{"g":"HH","t":19.0,"s":0.31,"c":1},{"g":"HH","t":19.8,"s":0.31,"c":1},{"g":"HH","t":20.6,"s":0.31,"c":1},{"g":"HH","t":21.4,"s":0.31,"c":1},{"g":"HH","t":22.2,"s":0.31,"c":1},{"g":"HH","t":23.0,"s":0.31,"c":1},{"g":"HH","t":23.7,"s":0.31,"c":1}
]},
"vconcat":[
{"hconcat":[
 {"width":1,"height":10,"data":{"values":[{}]},"mark":{"type":"point","opacity":0},"title":{"text":"A","anchor":"start","frame":"group","fontSize":16,"fontWeight":"bold","baseline":"alphabetic","offset":2,"dx":-24}},
 {"width":72,"height":133,"title":{"text":"TCGA","frame":"group","offset":-6,"dx":6,"baseline":"alphabetic"},
  "layer":[
   {"data":{"values":[{}]},"mark":{"type":"rule","strokeDash":[2,2],"color":"#444","strokeWidth":1},"encoding":{"y":{"datum":0,"type":"quantitative"}}},
   {"data":{"name":"a"},"transform":[{"filter":"datum.s=='T'"},{"calculate":"floor(datum.v/0.4)","as":"b"},{"window":[{"op":"row_number","as":"r"}],"groupby":["g","b"]},{"calculate":"(datum.g=='L'?0:1)+(datum.r%2==0?-1:1)*floor(datum.r/2)*0.09","as":"px"}],
    "mark":{"type":"circle","size":7,"opacity":1},
    "encoding":{"x":{"field":"px","type":"quantitative","scale":{"domain":[-0.65,1.31],"nice":false,"zero":false},"axis":{"values":[0,1],"labelExpr":"datum.value==0?'Low risk':'High risk'","labelAngle":-45,"title":null}},
     "y":{"field":"v","type":"quantitative","scale":{"domain":[-8,8],"nice":false,"zero":false},"axis":{"values":[-8,-4,0,4,8],"title":"TIDE"}},
     "color":{"condition":{"test":"datum.g=='L'","value":"#7cc242"},"value":"#e8393e"}}},
   {"data":{"name":"a"},"transform":[{"filter":"datum.s=='T'"},{"aggregate":[{"op":"median","field":"v","as":"v"}],"groupby":["g"]},{"calculate":"datum.g=='L'?0:1","as":"px"}],"mark":{"type":"tick","orient":"horizontal","size":25,"thickness":2,"color":"#111"},"encoding":{"x":{"field":"px","type":"quantitative"},"y":{"field":"v","type":"quantitative"}}},
   {"data":{"values":[{}]},"mark":{"type":"text","text":"***","fontSize":14,"fontWeight":"bold","baseline":"alphabetic"},"encoding":{"x":{"datum":0.53,"type":"quantitative"},"y":{"datum":6.3,"type":"quantitative"}}}
  ]},
 {"width":47,"height":10,"data":{"values":[{}]},"mark":{"type":"point","opacity":0}},
 {"width":83,"height":133,"title":{"text":"GSE30219","frame":"group","offset":-6,"baseline":"alphabetic"},
  "layer":[
   {"data":{"values":[{}]},"mark":{"type":"rule","strokeDash":[2,2],"color":"#444","strokeWidth":1},"encoding":{"y":{"datum":0,"type":"quantitative"}}},
   {"data":{"name":"a"},"transform":[{"filter":"datum.s=='A'"},{"calculate":"floor(datum.v/0.4)","as":"b"},{"window":[{"op":"row_number","as":"r"}],"groupby":["g","b"]},{"calculate":"(datum.g=='L'?0:1)+(datum.r%2==0?-1:1)*floor(datum.r/2)*0.09","as":"px"}],
    "mark":{"type":"circle","size":7,"opacity":1},
    "encoding":{"x":{"field":"px","type":"quantitative","scale":{"domain":[-0.77,1.45],"nice":false,"zero":false},"axis":{"values":[0,1],"labelExpr":"datum.value==0?'Low risk':'High risk'","labelAngle":-45,"title":null}},
     "y":{"field":"v","type":"quantitative","scale":{"domain":[-8,8],"nice":false,"zero":false},"axis":{"values":[-8,-4,0,4,8],"title":"TIDE"}},
     "color":{"condition":{"test":"datum.g=='L'","value":"#7cc242"},"value":"#e8393e"}}},
   {"data":{"name":"a"},"transform":[{"filter":"datum.s=='A'"},{"aggregate":[{"op":"median","field":"v","as":"v"}],"groupby":["g"]},{"calculate":"datum.g=='L'?0:1","as":"px"}],"mark":{"type":"tick","orient":"horizontal","size":25,"thickness":2,"color":"#111"},"encoding":{"x":{"field":"px","type":"quantitative"},"y":{"field":"v","type":"quantitative"}}},
   {"data":{"values":[{}]},"mark":{"type":"text","text":"***","fontSize":14,"fontWeight":"bold","baseline":"alphabetic"},"encoding":{"x":{"datum":0.5,"type":"quantitative"},"y":{"datum":6.3,"type":"quantitative"}}}
  ]},
 {"width":45,"height":10,"data":{"values":[{}]},"mark":{"type":"point","opacity":0}},
 {"width":89,"height":133,"title":{"text":"GSE31210","frame":"group","offset":-6,"baseline":"alphabetic"},
  "layer":[
   {"data":{"values":[{}]},"mark":{"type":"rule","strokeDash":[2,2],"color":"#444","strokeWidth":1},"encoding":{"y":{"datum":0,"type":"quantitative"}}},
   {"data":{"name":"a"},"transform":[{"filter":"datum.s=='B'"},{"calculate":"floor(datum.v/0.4)","as":"b"},{"window":[{"op":"row_number","as":"r"}],"groupby":["g","b"]},{"calculate":"(datum.g=='L'?0:1)+(datum.r%2==0?-1:1)*floor(datum.r/2)*0.09","as":"px"}],
    "mark":{"type":"circle","size":7,"opacity":1},
    "encoding":{"x":{"field":"px","type":"quantitative","scale":{"domain":[-0.69,1.74],"nice":false,"zero":false},"axis":{"values":[0,1],"labelExpr":"datum.value==0?'Low risk':'High risk'","labelAngle":-45,"title":null}},
     "y":{"field":"v","type":"quantitative","scale":{"domain":[-8,8],"nice":false,"zero":false},"axis":{"values":[-8,-4,0,4,8],"title":"TIDE"}},
     "color":{"condition":{"test":"datum.g=='L'","value":"#7cc242"},"value":"#e8393e"}}},
   {"data":{"name":"a"},"transform":[{"filter":"datum.s=='B'"},{"aggregate":[{"op":"median","field":"v","as":"v"}],"groupby":["g"]},{"calculate":"datum.g=='L'?0:1","as":"px"}],"mark":{"type":"tick","orient":"horizontal","size":25,"thickness":2,"color":"#111"},"encoding":{"x":{"field":"px","type":"quantitative"},"y":{"field":"v","type":"quantitative"}}},
   {"data":{"values":[{}]},"mark":{"type":"text","text":"*","fontSize":14,"fontWeight":"bold","baseline":"alphabetic"},"encoding":{"x":{"datum":0.5,"type":"quantitative"},"y":{"datum":6.3,"type":"quantitative"}}}
  ]},
 {"width":35,"height":10,"data":{"values":[{}]},"mark":{"type":"point","opacity":0}},
 {"width":88,"height":133,"title":{"text":"GSE50081","frame":"group","offset":-6,"baseline":"alphabetic"},
  "layer":[
   {"data":{"values":[{}]},"mark":{"type":"rule","strokeDash":[2,2],"color":"#444","strokeWidth":1},"encoding":{"y":{"datum":0,"type":"quantitative"}}},
   {"data":{"name":"a"},"transform":[{"filter":"datum.s=='C'"},{"calculate":"floor(datum.v/0.4)","as":"b"},{"window":[{"op":"row_number","as":"r"}],"groupby":["g","b"]},{"calculate":"(datum.g=='L'?0:1)+(datum.r%2==0?-1:1)*floor(datum.r/2)*0.09","as":"px"}],
    "mark":{"type":"circle","size":7,"opacity":1},
    "encoding":{"x":{"field":"px","type":"quantitative","scale":{"domain":[-0.67,1.73],"nice":false,"zero":false},"axis":{"values":[0,1],"labelExpr":"datum.value==0?'Low risk':'High risk'","labelAngle":-45,"title":null}},
     "y":{"field":"v","type":"quantitative","scale":{"domain":[-8,8],"nice":false,"zero":false},"axis":{"values":[-8,-4,0,4,8],"title":"TIDE"}},
     "color":{"condition":{"test":"datum.g=='L'","value":"#7cc242"},"value":"#e8393e"}}},
   {"data":{"name":"a"},"transform":[{"filter":"datum.s=='C'"},{"aggregate":[{"op":"median","field":"v","as":"v"}],"groupby":["g"]},{"calculate":"datum.g=='L'?0:1","as":"px"}],"mark":{"type":"tick","orient":"horizontal","size":25,"thickness":2,"color":"#111"},"encoding":{"x":{"field":"px","type":"quantitative"},"y":{"field":"v","type":"quantitative"}}},
   {"data":{"values":[{}]},"mark":{"type":"text","text":"**","fontSize":14,"fontWeight":"bold","baseline":"alphabetic"},"encoding":{"x":{"datum":0.5,"type":"quantitative"},"y":{"datum":6.3,"type":"quantitative"}}}
  ]},
 {"width":65,"height":10,"data":{"values":[{}]},"mark":{"type":"point","opacity":0},"title":{"text":"C","anchor":"start","frame":"group","fontSize":16,"fontWeight":"bold","baseline":"alphabetic","offset":2,"dx":27}},
 {"width":147,"height":135,"title":{"text":"IMvigor210","frame":"group","offset":-3.5,"baseline":"alphabetic"},
  "layer":[
   {"data":{"name":"c"},"mark":{"type":"line","interpolate":"step-after","strokeWidth":1.6},
    "encoding":{"x":{"field":"t","type":"quantitative","scale":{"domain":[-1.1,25.7],"nice":false,"zero":false},"axis":{"values":[0,5,10,15,20,25],"title":"Months","labelFontWeight":"normal","titleFontWeight":"normal","labelFontSize":11,"titleFontSize":11,"tickSize":4,"labelPadding":2}},
     "y":{"field":"s","type":"quantitative","scale":{"domain":[-0.0976,1.0],"nice":false,"zero":false},"axis":{"values":[0,0.2,0.4,0.6,0.8,1],"format":".1f","title":"Fraction survival","labelFontWeight":"normal","titleFontWeight":"normal","labelFontSize":11,"titleFontSize":11,"tickSize":4,"labelPadding":2,"titlePadding":5}},
     "color":{"field":"g","type":"nominal","scale":{"domain":["low risk","high risk"],"range":["#6cbf26","#e8373c"]},"legend":{"title":null,"orient":"top-right","offset":-5,"padding":0,"labelFontSize":11,"labelFontWeight":"normal","labelColor":"#222","symbolType":"M-1,0H1M0,-0.3V0.3","symbolSize":196,"symbolStrokeWidth":2,"symbolFillColor":"transparent","rowPadding":-2,"labelOffset":8}}}},
   {"data":{"name":"c"},"transform":[{"filter":"datum.c==1"}],"mark":{"type":"tick","orient":"vertical","size":5,"thickness":1},"encoding":{"x":{"field":"t","type":"quantitative"},"y":{"field":"s","type":"quantitative"},"color":{"field":"g","type":"nominal","legend":null}}},
   {"data":{"values":[{}]},"mark":{"type":"text","text":"P","fontSize":11,"fontStyle":"italic","align":"left","baseline":"middle"},"encoding":{"x":{"datum":2.2,"type":"quantitative"},"y":{"datum":0.073,"type":"quantitative"}}},
   {"data":{"values":[{}]},"mark":{"type":"text","text":"= 0.0197","fontSize":11,"align":"left","baseline":"middle"},"encoding":{"x":{"datum":3.75,"type":"quantitative"},"y":{"datum":0.073,"type":"quantitative"}}}
  ]}
 ],"spacing":0,"bounds":"flush","resolve":{"scale":{"color":"independent"},"legend":{"color":"independent"}}},
{"hconcat":[
 {"width":1,"height":10,"data":{"values":[{}]},"mark":{"type":"point","opacity":0},"title":{"text":"B","anchor":"start","frame":"group","fontSize":16,"fontWeight":"bold","baseline":"alphabetic","offset":-12,"dx":-24}},
 {"width":75,"height":128,
  "layer":[
   {"data":{"name":"v"},"transform":[{"filter":"datum.p==1"},{"calculate":"(datum.g=='L'?0:1)-datum.d*0.33","as":"x1"},{"calculate":"(datum.g=='L'?0:1)+datum.d*0.33","as":"x2"}],
    "mark":{"type":"area","orient":"horizontal","filled":false,"strokeWidth":2.2},
    "encoding":{"y":{"field":"y","type":"quantitative","scale":{"domain":[4,12],"nice":false,"zero":false},"axis":{"values":[4,6,8,10,12],"title":"IPS"}},
     "x":{"field":"x1","type":"quantitative","scale":{"domain":[-0.7,1.35],"nice":false,"zero":false},"axis":{"values":[0,1],"labelExpr":"datum.value==0?'Low risk':'High risk'","labelAngle":-45,"title":null}},
     "x2":{"field":"x2"},"detail":{"field":"g"},
     "color":{"condition":{"test":"datum.g=='L'","value":"#6cbe2b"},"value":"#e8373c"}}},
   {"data":{"name":"q"},"transform":[{"filter":"datum.p==1"},{"calculate":"(datum.g=='L'?0:1)-datum.d*0.28","as":"x1"},{"calculate":"(datum.g=='L'?0:1)+datum.d*0.28","as":"x2"}],
    "mark":{"type":"rule","strokeWidth":1},
    "encoding":{"x":{"field":"x1","type":"quantitative"},"x2":{"field":"x2"},"y":{"field":"y","type":"quantitative"},"strokeDash":{"condition":{"test":"datum.k=='m'","value":[4,2]},"value":[1.5,1.5]},"color":{"condition":{"test":"datum.k=='m'","value":"#666"},"value":"#999"}}},
   {"data":{"values":[{}]},"mark":{"type":"text","text":"***","fontSize":14,"fontWeight":"bold","baseline":"alphabetic"},"encoding":{"x":{"datum":0.45,"type":"quantitative"},"y":{"datum":11.27,"type":"quantitative"}}}
  ]},
 {"width":54,"height":10,"data":{"values":[{}]},"mark":{"type":"point","opacity":0}},
 {"width":92,"height":128,
  "layer":[
   {"data":{"name":"v"},"transform":[{"filter":"datum.p==2"},{"calculate":"(datum.g=='L'?0:1)-datum.d*0.33","as":"x1"},{"calculate":"(datum.g=='L'?0:1)+datum.d*0.33","as":"x2"}],
    "mark":{"type":"area","orient":"horizontal","filled":false,"strokeWidth":2.2},
    "encoding":{"y":{"field":"y","type":"quantitative","scale":{"domain":[4,12],"nice":false,"zero":false},"axis":{"values":[4,6,8,10,12],"title":["IPS-","PD1/PDL1/PDL2 blocker"],"titleLineHeight":11}},
     "x":{"field":"x1","type":"quantitative","scale":{"domain":[-0.68,1.83],"nice":false,"zero":false},"axis":{"values":[0,1],"labelExpr":"datum.value==0?'Low risk':'High risk'","labelAngle":-45,"title":null}},
     "x2":{"field":"x2"},"detail":{"field":"g"},
     "color":{"condition":{"test":"datum.g=='L'","value":"#6cbe2b"},"value":"#e8373c"}}},
   {"data":{"name":"q"},"transform":[{"filter":"datum.p==2"},{"calculate":"(datum.g=='L'?0:1)-datum.d*0.28","as":"x1"},{"calculate":"(datum.g=='L'?0:1)+datum.d*0.28","as":"x2"}],
    "mark":{"type":"rule","strokeWidth":1},
    "encoding":{"x":{"field":"x1","type":"quantitative"},"x2":{"field":"x2"},"y":{"field":"y","type":"quantitative"},"strokeDash":{"condition":{"test":"datum.k=='m'","value":[4,2]},"value":[1.5,1.5]},"color":{"condition":{"test":"datum.k=='m'","value":"#666"},"value":"#999"}}},
   {"data":{"values":[{}]},"mark":{"type":"text","text":"ns","fontSize":11,"baseline":"alphabetic"},"encoding":{"x":{"datum":0.5,"type":"quantitative"},"y":{"datum":11.5,"type":"quantitative"}}}
  ]},
 {"width":20,"height":10,"data":{"values":[{}]},"mark":{"type":"point","opacity":0}},
 {"width":88,"height":128,
  "layer":[
   {"data":{"name":"v"},"transform":[{"filter":"datum.p==3"},{"calculate":"(datum.g=='L'?0:1)-datum.d*0.33","as":"x1"},{"calculate":"(datum.g=='L'?0:1)+datum.d*0.33","as":"x2"}],
    "mark":{"type":"area","orient":"horizontal","filled":false,"strokeWidth":2.2},
    "encoding":{"y":{"field":"y","type":"quantitative","scale":{"domain":[4,12],"nice":false,"zero":false},"axis":{"values":[4,6,8,10,12],"title":"IPS-CTLA4 blocker"}},
     "x":{"field":"x1","type":"quantitative","scale":{"domain":[-0.74,1.66],"nice":false,"zero":false},"axis":{"values":[0,1],"labelExpr":"datum.value==0?'Low risk':'High risk'","labelAngle":-45,"title":null}},
     "x2":{"field":"x2"},"detail":{"field":"g"},
     "color":{"condition":{"test":"datum.g=='L'","value":"#6cbe2b"},"value":"#e8373c"}}},
   {"data":{"name":"q"},"transform":[{"filter":"datum.p==3"},{"calculate":"(datum.g=='L'?0:1)-datum.d*0.28","as":"x1"},{"calculate":"(datum.g=='L'?0:1)+datum.d*0.28","as":"x2"}],
    "mark":{"type":"rule","strokeWidth":1},
    "encoding":{"x":{"field":"x1","type":"quantitative"},"x2":{"field":"x2"},"y":{"field":"y","type":"quantitative"},"strokeDash":{"condition":{"test":"datum.k=='m'","value":[4,2]},"value":[1.5,1.5]},"color":{"condition":{"test":"datum.k=='m'","value":"#666"},"value":"#999"}}},
   {"data":{"values":[{}]},"mark":{"type":"text","text":"***","fontSize":14,"fontWeight":"bold","baseline":"alphabetic"},"encoding":{"x":{"datum":0.47,"type":"quantitative"},"y":{"datum":11.27,"type":"quantitative"}}}
  ]},
 {"width":42,"height":10,"data":{"values":[{}]},"mark":{"type":"point","opacity":0}},
 {"width":85,"height":128,
  "layer":[
   {"data":{"name":"v"},"transform":[{"filter":"datum.p==4"},{"calculate":"(datum.g=='L'?0:1)-datum.d*0.33","as":"x1"},{"calculate":"(datum.g=='L'?0:1)+datum.d*0.33","as":"x2"}],
    "mark":{"type":"area","orient":"horizontal","filled":false,"strokeWidth":2.2},
    "encoding":{"y":{"field":"y","type":"quantitative","scale":{"domain":[3,12],"nice":false,"zero":false},"axis":{"values":[4,6,8,10,12],"title":["IPS-CTLA4 and","PD1/PDL1/PDL2 blocker"],"titleLineHeight":11}},
     "x":{"field":"x1","type":"quantitative","scale":{"domain":[-0.67,1.65],"nice":false,"zero":false},"axis":{"values":[0,1],"labelExpr":"datum.value==0?'Low risk':'High risk'","labelAngle":-45,"title":null}},
     "x2":{"field":"x2"},"detail":{"field":"g"},
     "color":{"condition":{"test":"datum.g=='L'","value":"#6cbe2b"},"value":"#e8373c"}}},
   {"data":{"name":"q"},"transform":[{"filter":"datum.p==4"},{"calculate":"(datum.g=='L'?0:1)-datum.d*0.28","as":"x1"},{"calculate":"(datum.g=='L'?0:1)+datum.d*0.28","as":"x2"}],
    "mark":{"type":"rule","strokeWidth":1},
    "encoding":{"x":{"field":"x1","type":"quantitative"},"x2":{"field":"x2"},"y":{"field":"y","type":"quantitative"},"strokeDash":{"condition":{"test":"datum.k=='m'","value":[4,2]},"value":[1.5,1.5]},"color":{"condition":{"test":"datum.k=='m'","value":"#666"},"value":"#999"}}},
   {"data":{"values":[{}]},"mark":{"type":"text","text":"ns","fontSize":11,"baseline":"alphabetic"},"encoding":{"x":{"datum":0.55,"type":"quantitative"},"y":{"datum":11.44,"type":"quantitative"}}}
  ]},
 {"width":69,"height":10,"data":{"values":[{}]},"mark":{"type":"point","opacity":0},"title":{"text":"D","anchor":"start","frame":"group","fontSize":16,"fontWeight":"bold","baseline":"alphabetic","offset":-21,"dx":29}},
 {"width":147,"height":145,"title":{"text":"IMvigor210","frame":"group","offset":1,"baseline":"alphabetic"},
  "layer":[
   {"data":{"name":"d"},"mark":{"type":"line","interpolate":"step-after","strokeWidth":1.6},
    "encoding":{"x":{"field":"t","type":"quantitative","scale":{"domain":[-1.1,25.7],"nice":false,"zero":false},"axis":{"values":[0,5,10,15,20,25],"title":"Time (Months)","tickSize":4,"labelPadding":2}},
     "y":{"field":"s","type":"quantitative","scale":{"domain":[-0.052,1.022],"nice":false,"zero":false},"axis":{"values":[0,0.2,0.4,0.6,0.8,1],"format":".1f","title":"Overall Survival","tickSize":4,"labelPadding":2,"titlePadding":5}},
     "color":{"field":"g","type":"nominal","scale":{"domain":["LL","LH","HL","HH"],"range":["#2b4a8e","#d62027","#f8c700","#3a8f3a"]},"legend":{"title":null,"orient":"top-right","offset":-2,"padding":0,"labelFontSize":9,"labelFontWeight":"bold","labelColor":"#111","symbolType":"M-1,0H1","symbolSize":144,"symbolStrokeWidth":2.5,"symbolFillColor":"transparent","rowPadding":0.5,"labelOffset":6,"labelExpr":"datum.label=='LL'?'PD-L1ˡᵒʷRiskˡᵒʷ':datum.label=='LH'?'PD-L1ˡᵒʷRiskʰⁱᵍʰ':datum.label=='HL'?'PD-L1ʰⁱᵍʰRiskˡᵒʷ':'PD-L1ʰⁱᵍʰRiskʰⁱᵍʰ'"}}}},
   {"data":{"name":"d"},"transform":[{"filter":"datum.c==1"}],"mark":{"type":"tick","orient":"vertical","size":5,"thickness":1},"encoding":{"x":{"field":"t","type":"quantitative"},"y":{"field":"s","type":"quantitative"},"color":{"field":"g","type":"nominal","legend":null}}},
   {"data":{"values":[{}]},"mark":{"type":"rule","strokeWidth":2.5,"color":"#2b4a8e"},"encoding":{"x":{"datum":0.3,"type":"quantitative"},"x2":{"datum":2.6},"y":{"datum":0.224,"type":"quantitative"}}},
   {"data":{"values":[{}]},"mark":{"type":"rule","strokeWidth":2.5,"color":"#d62027"},"encoding":{"x":{"datum":0.3,"type":"quantitative"},"x2":{"datum":2.6},"y":{"datum":0.163,"type":"quantitative"}}},
   {"data":{"values":[{}]},"mark":{"type":"rule","strokeWidth":2.5,"color":"#f8c700"},"encoding":{"x":{"datum":0.3,"type":"quantitative"},"x2":{"datum":2.6},"y":{"datum":0.081,"type":"quantitative"}}},
   {"data":{"values":[{}]},"mark":{"type":"rule","strokeWidth":2.5,"color":"#3a8f3a"},"encoding":{"x":{"datum":0.3,"type":"quantitative"},"x2":{"datum":2.6},"y":{"datum":0.015,"type":"quantitative"}}},
   {"data":{"values":[{}]},"mark":{"type":"rule","strokeWidth":1.2,"color":"#111"},"encoding":{"x":{"datum":3.2,"type":"quantitative"},"y":{"datum":0.145,"type":"quantitative"},"y2":{"datum":0.245}}},
   {"data":{"values":[{}]},"mark":{"type":"rule","strokeWidth":1.2,"color":"#111"},"encoding":{"x":{"datum":3.2,"type":"quantitative"},"y":{"datum":-0.005,"type":"quantitative"},"y2":{"datum":0.095}}},
   {"data":{"values":[{}]},"mark":{"type":"text","text":"P","fontSize":10,"fontWeight":"bold","fontStyle":"italic","align":"left","baseline":"middle"},"encoding":{"x":{"datum":3.65,"type":"quantitative"},"y":{"datum":0.19,"type":"quantitative"}}},
   {"data":{"values":[{}]},"mark":{"type":"text","text":"= 0.1497","fontSize":10,"fontWeight":"bold","align":"left","baseline":"middle"},"encoding":{"x":{"datum":5.1,"type":"quantitative"},"y":{"datum":0.19,"type":"quantitative"}}},
   {"data":{"values":[{}]},"mark":{"type":"text","text":"P","fontSize":10,"fontWeight":"bold","fontStyle":"italic","align":"left","baseline":"middle"},"encoding":{"x":{"datum":3.65,"type":"quantitative"},"y":{"datum":0.045,"type":"quantitative"}}},
   {"data":{"values":[{}]},"mark":{"type":"text","text":"= 0.0445","fontSize":10,"fontWeight":"bold","align":"left","baseline":"middle"},"encoding":{"x":{"datum":5.1,"type":"quantitative"},"y":{"datum":0.045,"type":"quantitative"}}}
  ]}
 ],"spacing":0,"bounds":"flush","resolve":{"scale":{"color":"independent"},"legend":{"color":"independent"}}}
],
"spacing":6,"bounds":"full","resolve":{"scale":{"color":"independent"},"legend":{"color":"independent"}},
"config":{"font":"Liberation Sans","view":{"stroke":null},
 "axis":{"grid":false,"domainColor":"#000","domainWidth":1.4,"tickColor":"#000","tickWidth":1.4,"tickSize":3,"labelPadding":1,"labelColor":"#000","titleColor":"#000","labelFontWeight":"bold","titleFontWeight":"bold","labelFontSize":9.5,"titleFontSize":10.5,"titlePadding":2,"labelFont":"Liberation Sans","titleFont":"Liberation Sans"},
 "title":{"fontSize":10.5,"fontWeight":"bold","color":"#000","font":"Liberation Sans"},
 "legend":{"labelFont":"Liberation Sans"}}
}
